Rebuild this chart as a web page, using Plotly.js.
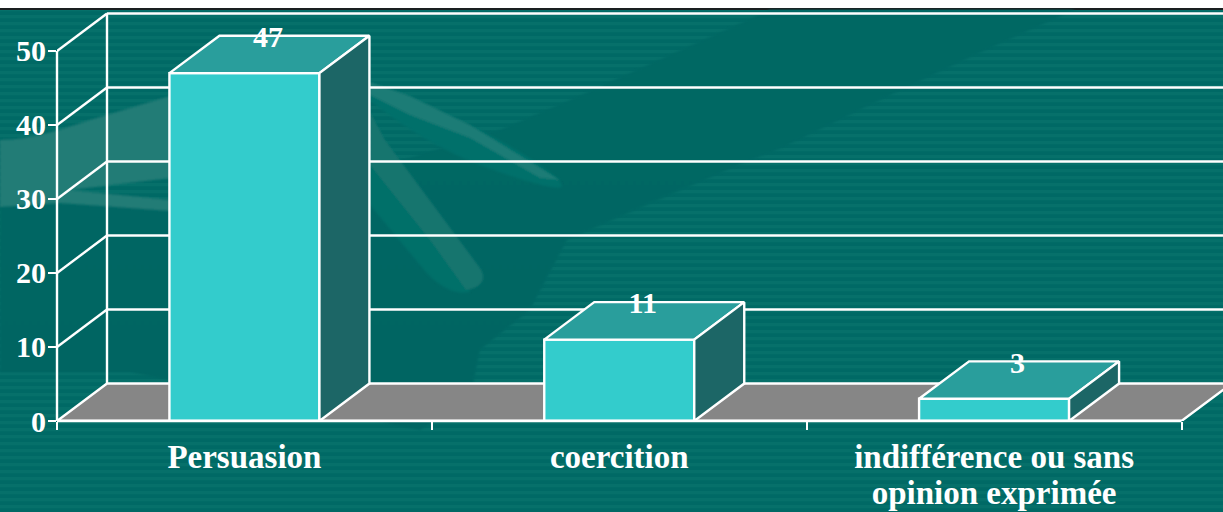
<!DOCTYPE html>
<html><head><meta charset="utf-8">
<script src="https://cdn.plot.ly/plotly-3.0.1.min.js"></script>
<style>
html,body{margin:0;padding:0;background:#fff;overflow:hidden}
#wrap{position:relative;width:1223px;height:512px}
#bg,#chart{position:absolute;left:0;top:0;width:1223px;height:512px}
</style></head><body>
<div id="wrap">
<svg id="bg" width="1223" height="512" viewBox="0 0 1223 512" xmlns="http://www.w3.org/2000/svg">
 <defs>
  <pattern id="st" width="10" height="7" patternUnits="userSpaceOnUse" y="1"><rect width="10" height="3.2" fill="#0e7a72"/></pattern>
  <filter id="b1"><feGaussianBlur stdDeviation="0.9"/></filter>
  <linearGradient id="dk" x1="0" y1="0" x2="0" y2="1"><stop offset="0" stop-color="#006864"/><stop offset="1" stop-color="#006562"/></linearGradient>
 </defs>
 <rect x="0" y="0" width="1223" height="8" fill="#fff"/>
 <rect x="0" y="8" width="1223" height="2" fill="#1a1f20"/>
 <rect x="0" y="10" width="1223" height="502" fill="#006965"/>
 <rect x="0" y="10" width="1223" height="502" fill="url(#st)" opacity=".42"/>
 <path d="M770 10L1075 10C960 60 860 110 777 150L743 163L567 240L530 310L480 350L470 400L420 430L130 372L0 372L0 205L170 200L370 170L500 130L577 97Z" fill="url(#dk)" filter="url(#b1)"/>
 <g filter="url(#b1)">
  <path d="M370 100C400 125 440 150 480 165C520 180 560 192 562 186C560 175 520 150 470 125L370 82Z" fill="#02706a"/>
  <path d="M370 82L410 96L470 125L560 180L540 178L470 138L410 115L370 95Z" fill="#1c7c76"/>
  <path d="M370 150L470 292C455 296 435 285 420 265L370 205Z" fill="#006f69"/>
  <path d="M370 112L385 140L480 268C488 280 480 288 466 290L430 240L370 165Z" fill="#15746e"/>
  <path d="M0 140C30 140 60 130 90 120L170 96L170 178L70 190L170 200L170 211L60 203L0 207Z" fill="#247b76"/>
 </g>
</svg>
<div id="chart"></div>
</div>
<script>
// ---- data ----
var categories = ["Persuasion", "coercition", "indifférence ou sans"];
var categoryLine2 = ["", "", "opinion exprimée"];
var values = [47, 11, 3];
var valueTicks = [0, 10, 20, 30, 40, 50];
var gridLevels = [10, 20, 30, 40, 50];
var categoryEdges = [0, 1, 2, 3];

// ---- pseudo-3D geometry in axis units ----
var plotL = 57, plotEdge = 1181.5, zeroY = 421.5, fiftyY = 51;
var unitX = (plotEdge - plotL) / 3, unitY = (zeroY - fiftyY) / 50;
var depthX = 50 / unitX, depthY = 37.5 / unitY;
var barW = 150 / unitX;
var centers = categories.map(function (_, i) { return i + 0.5; });
var white = "#ffffff", lw = 2.4;
var xMax = (1223 - plotL) / unitX, yMax = zeroY / unitY;

var shapes = [];
function line(x0, y0, x1, y1) {
  shapes.push({type: "line", layer: "below", xref: "x", yref: "y", x0: x0, y0: y0, x1: x1, y1: y1,
    line: {color: white, width: lw}});
}
// floor
shapes.push({type: "path", layer: "below", xref: "x", yref: "y",
  path: "M0,0 L3,0 L" + (3 + depthX) + "," + depthY + " L" + depthX + "," + depthY + " Z",
  fillcolor: "#868686", line: {color: white, width: lw}});
// walls
line(depthX, depthY, depthX, 50 + depthY);
gridLevels.forEach(function (v) {
  line(depthX, v + depthY, xMax, v + depthY);
  line(0, v, depthX, v + depthY);
});
// value axis and base line: paper references keep them from being clipped at the plot edge
shapes.push({type: "line", layer: "above", xref: "paper", yref: "y", x0: 0, x1: 0, y0: 0, y1: 50,
  line: {color: white, width: lw}});
shapes.push({type: "line", layer: "above", xref: "x", yref: "paper", x0: 0, x1: 3, y0: 0, y1: 0,
  line: {color: white, width: lw}});

var traces = [];
// front faces: real bars
traces.push({type: "bar", x: centers, y: values, width: barW, hoverinfo: "skip",
  marker: {color: "#33cccc", line: {color: white, width: lw}}});
// top and side faces
centers.forEach(function (c, i) {
  var l = c - barW / 2, r = c + barW / 2, v = values[i];
  traces.push({type: "scatter", mode: "lines", fill: "toself", fillcolor: "#299e9c", hoverinfo: "skip",
    x: [l, r, r + depthX, l + depthX, l], y: [v, v, v + depthY, v + depthY, v],
    line: {color: white, width: lw}});
  traces.push({type: "scatter", mode: "lines", fill: "toself", fillcolor: "#1c6666", hoverinfo: "skip",
    x: [r, r + depthX, r + depthX, r, r], y: [0, depthY, v + depthY, v, 0],
    line: {color: white, width: lw}});
});
// value labels sit on the back edge of the top face
traces.push({type: "scatter", mode: "text", hoverinfo: "skip",
  x: centers.map(function (c) { return c + depthX * 0.47; }),
  y: values.map(function (v) { return v + depthY - 0.5; }),
  text: values.map(String), textposition: "middle center",
  textfont: {family: "Liberation Serif", size: 30, color: white, weight: 700}});
// edge ticks and the second label line live on overlay x axes
traces.push({type: "scatter", mode: "lines", xaxis: "x2", x: categoryEdges, y: [0, 0, 0, 0],
  line: {color: white, width: lw}, hoverinfo: "skip"});
traces.push({type: "scatter", mode: "lines", xaxis: "x3", x: centers, y: [0, 0, 0],
  line: {color: "rgba(0,0,0,0)", width: 0}, hoverinfo: "skip"});

var labelFont = {family: "Liberation Serif", size: 33, color: white, weight: 700};
var layout = {
  width: 1223, height: 512, showlegend: false,
  paper_bgcolor: "rgba(0,0,0,0)", plot_bgcolor: "rgba(0,0,0,0)",
  margin: {l: plotL, r: 0, t: 0, b: 512 - zeroY, pad: 0},
  bargap: 0,
  xaxis: {range: [0, xMax], tickmode: "array", tickvals: centers, ticktext: categories, ticks: "",
    showgrid: false, zeroline: false, showline: false, ticklabelstandoff: 13, automargin: false,
    tickfont: labelFont},
  xaxis2: {overlaying: "x", side: "bottom", anchor: "y", range: [0, xMax], tickmode: "array", tickvals: categoryEdges,
    ticktext: ["", "", "", ""], ticks: "outside", ticklen: 8, tickwidth: 2, tickcolor: white,
    showgrid: false, zeroline: false, showline: false},
  xaxis3: {overlaying: "x", side: "bottom", anchor: "y", range: [0, xMax], tickmode: "array", tickvals: centers,
    ticktext: categoryLine2, ticks: "", showgrid: false, zeroline: false, showline: false,
    ticklabelstandoff: 49, automargin: false, tickfont: labelFont},
  yaxis: {range: [0, yMax], tickmode: "array", tickvals: valueTicks, ticks: "outside", ticklen: 8, tickwidth: 2, tickcolor: white,
    showgrid: false, zeroline: false, showline: false, ticklabelstandoff: -4, automargin: false,
    tickfont: {family: "Liberation Serif", size: 30, color: white, weight: 700}},
  shapes: shapes
};
Plotly.newPlot("chart", traces, layout, {displayModeBar: false, staticPlot: true});
</script>
</body></html>
